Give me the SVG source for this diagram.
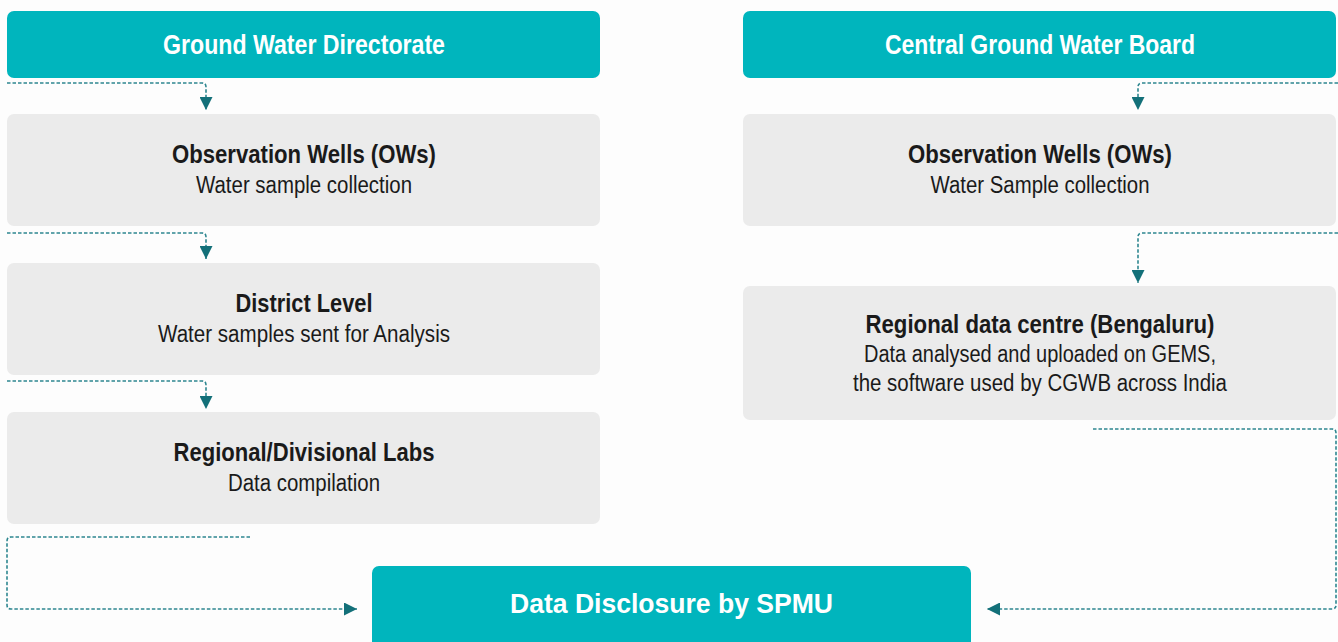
<svg xmlns="http://www.w3.org/2000/svg" width="1338" height="642" viewBox="0 0 1338 642">
<style>
.hdr{fill:#00b5bd}
.box{fill:#ebebeb}
text{font-family:"Liberation Sans","Arimo",Arial,sans-serif;text-anchor:middle}
.ht{font-weight:bold;fill:#ffffff;font-size:28px}
.tt{font-weight:bold;fill:#1a1a1a;font-size:25px}
.st{fill:#1a1a1a;font-size:23px}
.ln{fill:none;stroke:#2e8790;stroke-width:1.6;stroke-dasharray:3.5 2}
</style>
<defs>
<marker id="ah" viewBox="0 0 10 10" refX="10" refY="5" markerWidth="13" markerHeight="13" markerUnits="userSpaceOnUse" orient="auto">
<path d="M0,0 L10,5 L0,10 Z" fill="#137079"/>
</marker>
</defs>
<rect width="1338" height="642" fill="#fdfdfd"/>
<g id="gwd">
<rect class="hdr" x="7" y="11" width="593" height="67" rx="7"/>
<text class="ht" x="304" y="54" textLength="282" lengthAdjust="spacingAndGlyphs">Ground Water Directorate</text>
</g>
<g id="cgwb">
<rect class="hdr" x="743" y="11" width="593" height="67" rx="7"/>
<text class="ht" x="1040" y="54" textLength="310" lengthAdjust="spacingAndGlyphs">Central Ground Water Board</text>
</g>
<g id="ow-left">
<rect class="box" x="7" y="114" width="593" height="112" rx="7"/>
<text class="tt" x="304" y="163" textLength="264" lengthAdjust="spacingAndGlyphs">Observation Wells (OWs)</text>
<text class="st" x="304" y="193" textLength="216" lengthAdjust="spacingAndGlyphs">Water sample collection</text>
</g>
<g id="district">
<rect class="box" x="7" y="263" width="593" height="112" rx="7"/>
<text class="tt" x="304" y="312" textLength="137" lengthAdjust="spacingAndGlyphs">District Level</text>
<text class="st" x="304" y="342" textLength="292" lengthAdjust="spacingAndGlyphs">Water samples sent for Analysis</text>
</g>
<g id="labs">
<rect class="box" x="7" y="412" width="593" height="112" rx="7"/>
<text class="tt" x="304" y="461" textLength="261" lengthAdjust="spacingAndGlyphs">Regional/Divisional Labs</text>
<text class="st" x="304" y="491" textLength="152" lengthAdjust="spacingAndGlyphs">Data compilation</text>
</g>
<g id="ow-right">
<rect class="box" x="743" y="114" width="593" height="112" rx="7"/>
<text class="tt" x="1040" y="163" textLength="264" lengthAdjust="spacingAndGlyphs">Observation Wells (OWs)</text>
<text class="st" x="1040" y="193" textLength="219" lengthAdjust="spacingAndGlyphs">Water Sample collection</text>
</g>
<g id="rdc">
<rect class="box" x="743" y="286" width="593" height="134" rx="7"/>
<text class="tt" x="1040" y="333" textLength="349" lengthAdjust="spacingAndGlyphs">Regional data centre (Bengaluru)</text>
<text class="st" x="1040" y="362" textLength="352" lengthAdjust="spacingAndGlyphs">Data analysed and uploaded on GEMS,</text>
<text class="st" x="1040" y="391" textLength="374" lengthAdjust="spacingAndGlyphs">the software used by CGWB across India</text>
</g>
<g id="spmu">
<rect class="hdr" x="372" y="566" width="599" height="90" rx="7"/>
<text class="ht" x="671.5" y="613" textLength="323" lengthAdjust="spacingAndGlyphs">Data Disclosure by SPMU</text>
</g>
<g id="connectors">
<path class="ln" d="M7,83 H202 Q206,83 206,87 V110" marker-end="url(#ah)"/>
<path class="ln" d="M7,233 H202 Q206,233 206,237 V259" marker-end="url(#ah)"/>
<path class="ln" d="M7,381 H202 Q206,381 206,385 V409" marker-end="url(#ah)"/>
<path class="ln" d="M250,537 H11 Q7,537 7,541 V605 Q7,609 11,609 H357" marker-end="url(#ah)"/>
<path class="ln" d="M1338,83 H1142 Q1138,83 1138,87 V110" marker-end="url(#ah)"/>
<path class="ln" d="M1338,233 H1142 Q1138,233 1138,237 V283" marker-end="url(#ah)"/>
<path class="ln" d="M1093,429 H1332 Q1336,429 1336,433 V605 Q1336,609 1332,609 H987" marker-end="url(#ah)"/>
</g>
</svg>
